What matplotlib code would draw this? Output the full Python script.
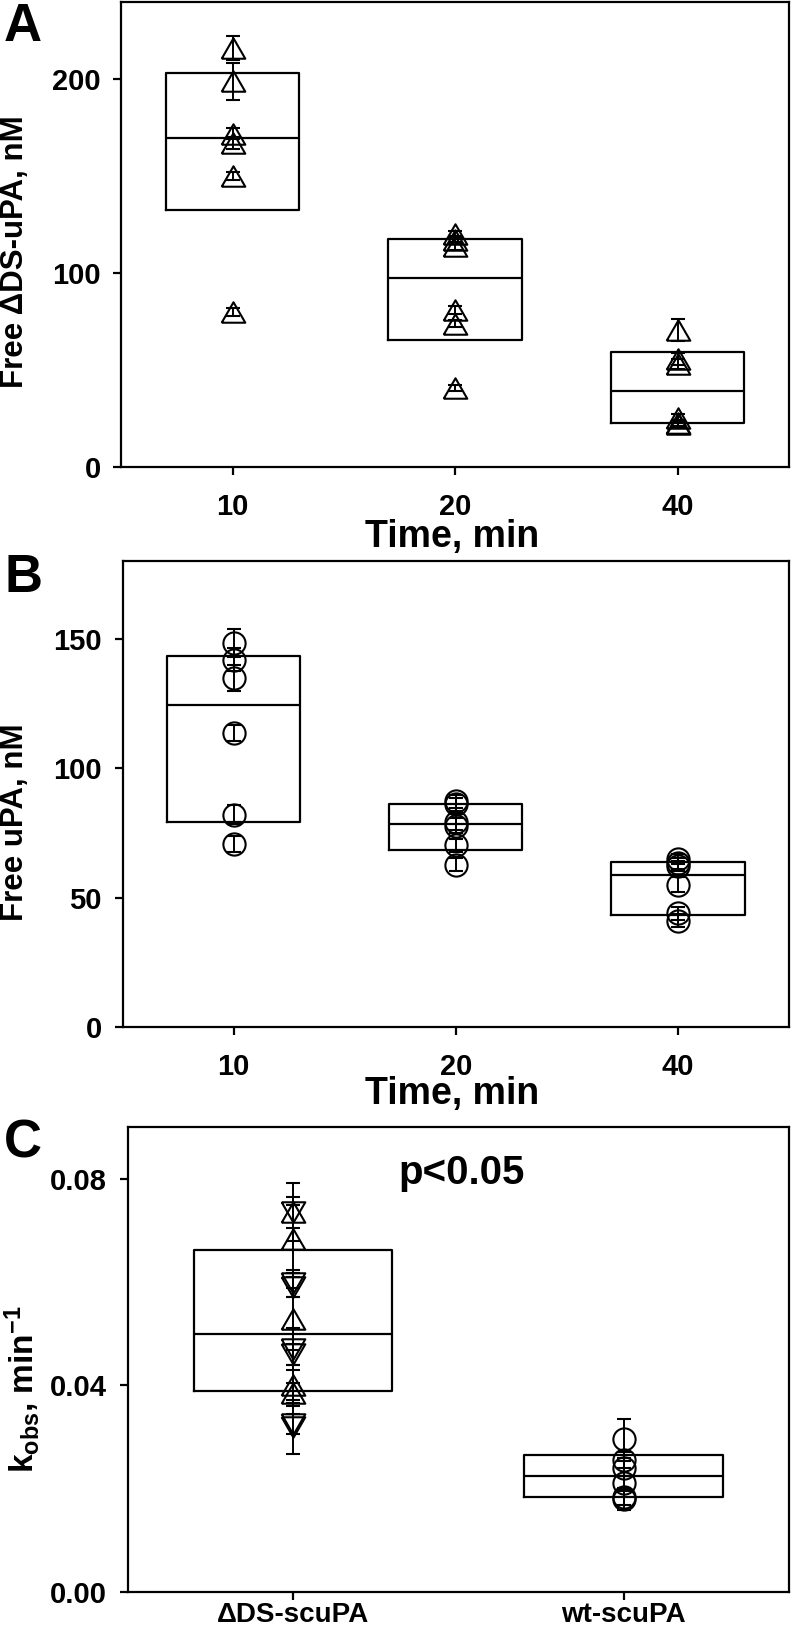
import numpy as np
import matplotlib
matplotlib.use("Agg")
import matplotlib.pyplot as plt

plt.rcParams['font.family'] = ['Liberation Sans', 'DejaVu Sans']
plt.rcParams['font.weight'] = 'bold'
plt.rcParams['mathtext.fontset'] = 'custom'
plt.rcParams['mathtext.rm'] = 'Liberation Sans:bold'
plt.rcParams['mathtext.it'] = 'Liberation Sans:bold'
plt.rcParams['mathtext.bf'] = 'Liberation Sans:bold'
plt.rcParams['axes.linewidth'] = 1.6

W, H = 794, 1625

# ---- data ----
times = ['10', '20', '40']

# panel A: free dDS-uPA (nM), one list per time point
ds_upa = [[80, 150, 167, 172, 199, 216],
          [41, 74, 81, 114, 117, 120],
          [22, 22.8, 25.4, 53, 55.8, 70.7]]
ds_upa_err = [[2, 2, 3, 3, 9.6, 6.3],
              [1.5, 2, 2, 2, 2, 2],
              [1.5, 1.5, 2, 2.5, 3, 5.5]]

# panel B: free uPA (nM)
upa = [[70.7, 82.1, 113.7, 134.8, 141.9, 148.3],
       [62.7, 70.2, 77.8, 79.2, 86, 87.2],
       [41, 44, 55, 62.2, 63.2, 65]]
upa_err = [[3, 3.5, 3, 5, 4.5, 5.4],
           [2.5, 2.5, 3, 3, 2.5, 2.5],
           [2.5, 2.5, 3, 2, 2, 2]]

# panel C: kobs (1/min)
groups_c = ['ΔDS-scuPA', 'wt-scuPA']
kobs_ds_up = [0.0385, 0.040, 0.0529, 0.0683, 0.0735]
kobs_ds_up_err = [0.002, 0.004, 0.006, 0.0065, 0.0056]
kobs_ds_down = [0.032, 0.0325, 0.046, 0.047, 0.059, 0.0597, 0.0735]
kobs_ds_down_err = [0.0052, 0.002, 0.002, 0.0041, 0.002, 0.0026, 0.003]
kobs_wt = [0.018, 0.0184, 0.021, 0.0239, 0.0255, 0.0297]
kobs_wt_err = [0.0022, 0.0015, 0.0015, 0.0015, 0.0015, 0.0038]

# equilateral triangles like SigmaPlot's
tri_up = [(-1, -0.866), (1, -0.866), (0, 0.866), (-1, -0.866)]
tri_down = [(-1, 0.866), (1, 0.866), (0, -0.866), (-1, 0.866)]


def box_stats(vals):
    q1, med, q3 = np.percentile(vals, [25, 50, 75], method='weibull')
    return dict(med=med, q1=q1, q3=q3, whislo=q1, whishi=q3, fliers=[])


def add_axes(fig, left, top, right, bottom):
    return fig.add_axes([left / W, 1 - bottom / H, (right - left) / W, (bottom - top) / H])


def style(ax, xpad):
    ax.tick_params(direction='out', length=6, width=1.6, labelsize=21)
    ax.tick_params(axis='y', pad=9)
    ax.tick_params(axis='x', pad=xpad)
    for lab in ax.get_xticklabels() + ax.get_yticklabels():
        lab.set_fontweight('bold')


def draw_boxes(ax, groups, positions):
    ax.bxp([box_stats(g) for g in groups], positions=positions, widths=0.6,
           showcaps=False, showfliers=False,
           boxprops=dict(color='k', linewidth=1.6),
           medianprops=dict(color='k', linewidth=1.6),
           whiskerprops=dict(linewidth=0))


def draw_points(ax, x, vals, errs, marker, ms):
    ax.errorbar([x] * len(vals), vals, yerr=errs, marker=marker, ms=ms,
                mfc='none', mec='k', mew=1.5, ecolor='k', elinewidth=1.4,
                capsize=5, capthick=1.4, linestyle='none', zorder=3)


fig = plt.figure(figsize=(W / 100, H / 100), dpi=100)

# ---- panel A ----
axA = add_axes(fig, 121.5, 1.7, 789, 467.1)
draw_boxes(axA, ds_upa, [1, 2, 3])
for i in range(3):
    draw_points(axA, i + 1, ds_upa[i], ds_upa_err[i], tri_up, 17)
axA.set_xlim(0.5, 3.5)
axA.set_ylim(0, 240)
axA.set_yticks([0, 100, 200])
axA.set_xticks([1, 2, 3])
axA.set_xticklabels(times)
style(axA, 13)

# ---- panel B ----
axB = add_axes(fig, 122.5, 561.1, 789, 1027.1)
draw_boxes(axB, upa, [1, 2, 3])
for i in range(3):
    draw_points(axB, i + 1, upa[i], upa_err[i], 'o', 16)
axB.set_xlim(0.5, 3.5)
axB.set_ylim(0, 180)
axB.set_yticks([0, 50, 100, 150])
axB.set_xticks([1, 2, 3])
axB.set_xticklabels(times)
style(axB, 13)

# ---- panel C ----
axC = add_axes(fig, 127.7, 1126.9, 789, 1592)
draw_boxes(axC, [kobs_ds_up + kobs_ds_down, kobs_wt], [1, 2])
draw_points(axC, 1, kobs_ds_down, kobs_ds_down_err, tri_down, 17)
draw_points(axC, 1, kobs_ds_up, kobs_ds_up_err, tri_up, 17)
draw_points(axC, 2, kobs_wt, kobs_wt_err, 'o', 16)
axC.set_xlim(0.5, 2.5)
axC.set_ylim(0, 0.09)
axC.set_yticks([0, 0.04, 0.08])
axC.set_yticklabels(['0.00', '0.04', '0.08'])
axC.set_xticks([1, 2])
axC.set_xticklabels(groups_c)
style(axC, 1.5)
axC.tick_params(axis='x', labelsize=20)
axC.text(0.505, 0.9, 'p<0.05', transform=axC.transAxes, ha='center', va='center',
         fontsize=29, fontweight='bold')

# ---- labels ----
def ftext(x, y, s, **kw):
    fig.text(x / W, 1 - y / H, s, fontweight='bold', **kw)

ftext(452, 537, 'Time, min', fontsize=27, ha='center', va='center')
ftext(452, 1094, 'Time, min', fontsize=27, ha='center', va='center')
ftext(15, 252, 'Free ΔDS-uPA, nM', fontsize=22.5, rotation=90, ha='center', va='center')
ftext(15, 822, 'Free uPA, nM', fontsize=22.5, rotation=90, ha='center', va='center')
ftext(22, 1389, r'k$_{\mathrm{obs}}$, min$^{\mathrm{-1}}$', fontsize=24, rotation=90,
      ha='center', va='center')
ftext(4, 2, 'A', fontsize=38, ha='left', va='top')
ftext(4, 553, 'B', fontsize=38, ha='left', va='top')
ftext(4, 1118, 'C', fontsize=38, ha='left', va='top')

fig.savefig('out.png', dpi=100)
